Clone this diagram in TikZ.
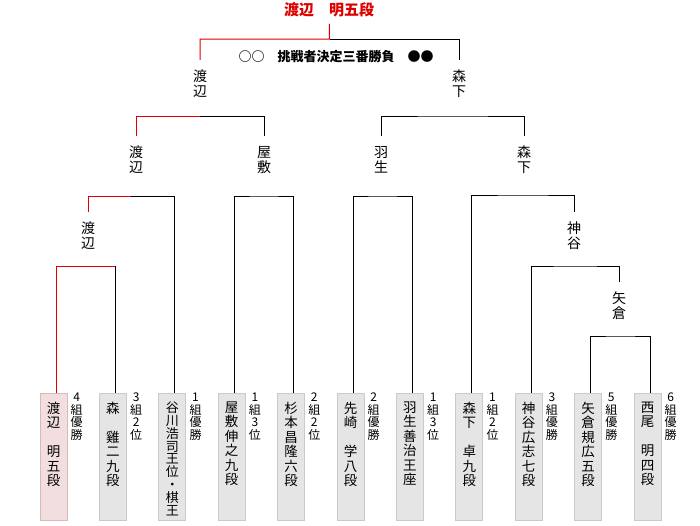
\documentclass[tikz,border=0pt]{standalone}
\usepackage{fontspec}
\setmainfont{Noto Sans CJK JP}
\usetikzlibrary{positioning}
\definecolor{winred}{RGB}{221,0,0}
\definecolor{boxgray}{RGB}{229,229,229}
\definecolor{boxedge}{RGB}{202,202,202}
\definecolor{boxpink}{RGB}{242,222,222}
\definecolor{pinkedge}{RGB}{216,186,186}

\begin{document}
\begin{tikzpicture}[x=1pt, y=-1pt,
    treeline/.style={draw, black, line width=1pt},
    winline/.style={draw, winred, line width=1pt},
    namebox/.style={rectangle, draw=boxedge, fill=boxgray, line width=1pt, minimum width=27pt, minimum height=127pt, anchor=north, inner sep=0pt},
    winbox/.style={namebox, draw=pinkedge, fill=boxpink},
    nametext/.style={align=center, inner sep=0pt, font=\fontsize{13.5}{14.5}\selectfont},
    longname/.style={nametext, font=\fontsize{13}{12.9}\selectfont},
    notetext/.style={align=center, inner sep=0pt, anchor=north west, font=\fontsize{12}{12.5}\selectfont},
    player/.style={align=center, inner xsep=2pt, inner ysep=10pt, font=\fontsize{14}{15}\selectfont}]

    \useasboundingbox (0,0) rectangle (700,525);

    % --- Champion and final ---
    \node[text=winred, inner sep=7pt, font=\fontsize{15}{15}\selectfont\bfseries] (champ) at (329,9.5) {渡辺　明五段};
    \node[font=\fontsize{13}{13}\selectfont\bfseries] (final) at (336,57) {○○　挑戦者決定三番勝負　●●};

    % --- Winner labels ---
    \node[player] (wF1) at (200,84) {渡\\辺};
    \node[player] (wF2) at (459,84) {森\\下};
    \node[player] (wS1) at (136,160) {渡\\辺};
    \node[player] (wS2) at (264,160) {屋\\敷};
    \node[player] (wS3) at (381,160) {羽\\生};
    \node[player] (wS4) at (524,160) {森\\下};
    \node[player] (wL1) at (88,236) {渡\\辺};
    \node[player] (wL2) at (574,236) {神\\谷};
    \node[player] (wL3) at (619,306) {矢\\倉};

    % --- Player boxes ---
    \node[winbox] (b1) at (53.5,393) {};
    \node[namebox] (b2) at (112.9,393) {};
    \node[namebox] (b3) at (172.3,393) {};
    \node[namebox] (b4) at (231.7,393) {};
    \node[namebox] (b5) at (291.1,393) {};
    \node[namebox] (b6) at (350.5,393) {};
    \node[namebox] (b7) at (409.9,393) {};
    \node[namebox] (b8) at (469.3,393) {};
    \node[namebox] (b9) at (528.7,393) {};
    \node[namebox] (b10) at (588.1,393) {};
    \node[namebox] (b11) at (647.5,393) {};

    \node[nametext, below=8.5pt of b1.north] (n1) {渡\\辺\\　\\明\\五\\段};
    \node[nametext, below=8.5pt of b2.north] (n2) {森\\　\\雞\\二\\九\\段};
    \node[longname, below=8.5pt of b3.north] (n3) {谷\\川\\浩\\司\\王\\位\\・\\棋\\王};
    \node[nametext, below=8.5pt of b4.north] (n4) {屋\\敷\\伸\\之\\九\\段};
    \node[nametext, below=8.5pt of b5.north] (n5) {杉\\本\\昌\\隆\\六\\段};
    \node[nametext, below=8.5pt of b6.north] (n6) {先\\崎\\　\\学\\八\\段};
    \node[nametext, below=8.5pt of b7.north] (n7) {羽\\生\\善\\治\\王\\座};
    \node[nametext, below=8.5pt of b8.north] (n8) {森\\下\\　\\卓\\九\\段};
    \node[nametext, below=8.5pt of b9.north] (n9) {神\\谷\\広\\志\\七\\段};
    \node[nametext, below=8.5pt of b10.north] (n10) {矢\\倉\\規\\広\\五\\段};
    \node[nametext, below=8.5pt of b11.north] (n11) {西\\尾\\　\\明\\四\\段};

    % --- Group results ---
    \node[notetext] (g1) at ([xshift=3pt]b1.north east) {4\\組\\優\\勝};
    \node[notetext] (g2) at ([xshift=3pt]b2.north east) {3\\組\\2\\位};
    \node[notetext] (g3) at ([xshift=3pt]b3.north east) {1\\組\\優\\勝};
    \node[notetext] (g4) at ([xshift=3pt]b4.north east) {1\\組\\3\\位};
    \node[notetext] (g5) at ([xshift=3pt]b5.north east) {2\\組\\2\\位};
    \node[notetext] (g6) at ([xshift=3pt]b6.north east) {2\\組\\優\\勝};
    \node[notetext] (g7) at ([xshift=3pt]b7.north east) {1\\組\\3\\位};
    \node[notetext] (g8) at ([xshift=3pt]b8.north east) {1\\組\\2\\位};
    \node[notetext] (g9) at ([xshift=3pt]b9.north east) {3\\組\\優\\勝};
    \node[notetext] (g10) at ([xshift=3pt]b10.north east) {5\\組\\優\\勝};
    \node[notetext] (g11) at ([xshift=3pt]b11.north east) {6\\組\\優\\勝};

    % --- Line ends on the boxes ---
    \coordinate (t1) at (56,393);
    \coordinate (t2) at (115.4,393);
    \coordinate (t3) at (174.8,393);
    \coordinate (t4) at (234.2,393);
    \coordinate (t5) at (293.6,393);
    \coordinate (t6) at (353,393);
    \coordinate (t7) at (412.4,393);
    \coordinate (t8) at (471.8,393);
    \coordinate (t9) at (531.2,393);
    \coordinate (t10) at (590.6,393);
    \coordinate (t11) at (650,393);

    % --- Bracket junctions ---
    \coordinate (jTop) at (329.5,39);
    \coordinate (jS1) at (200,116);
    \coordinate (jS2) at (452.5,116);
    \coordinate (jA) at (131.4,196);
    \coordinate (jB) at (263.9,196);
    \coordinate (jC) at (382.7,196);
    \coordinate (jD) at (522.9,195);
    \coordinate (jE) at (85.7,266);
    \coordinate (jF) at (575,266);
    \coordinate (jG) at (620.3,336);

    % --- Brackets ---
    \draw[treeline] (jTop) -| (wF2);
    \draw[winline] (wF1) |- (jTop) -- (champ);

    \draw[treeline] (jS1) -| (wS2);
    \draw[winline] (wS1) |- (jS1);
    \draw[treeline] (wS3) |- (jS2) -| (wS4);

    \draw[treeline] (jA) -| (t3);
    \draw[winline] (wL1) |- (jA);
    \draw[treeline] (t4) |- (jB) -| (t5);
    \draw[treeline] (t6) |- (jC) -| (t7);
    \draw[treeline] (t8) |- (jD) -| (wL2);

    \draw[treeline] (t2) -- (t2 |- jE);
    \draw[winline] (t1) |- (t2 |- jE);
    \draw[treeline] (t9) |- (jF) -| (wL3);
    \draw[treeline] (t10) |- (jG) -| (t11);

\end{tikzpicture}
\end{document}
